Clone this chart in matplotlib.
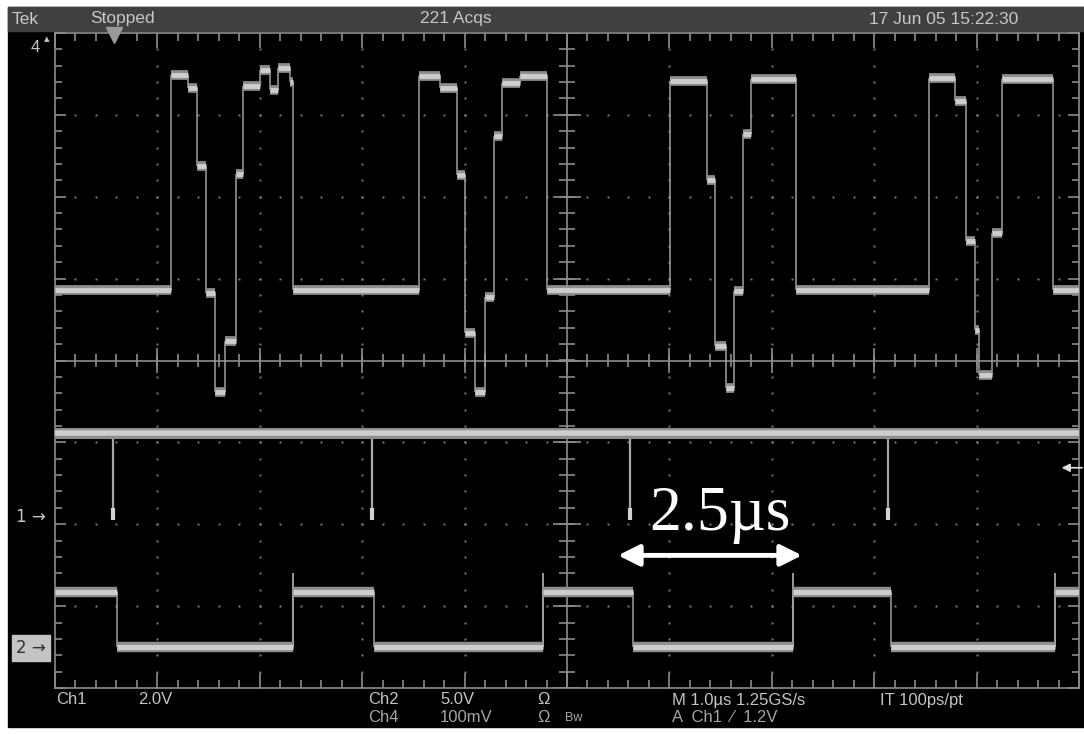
import numpy as np
import matplotlib.pyplot as plt
from matplotlib.patches import Rectangle

plt.rcParams['font.family'] = ['Liberation Sans', 'DejaVu Sans']

# time axis in us (1.0 us/div), vertical in screen divisions from centre
# Ch4 trace: step edges and the level held between them
ch4_edges = [0.0, 1.133, 1.299, 1.387, 1.475, 1.563, 1.660, 1.768, 1.836, 2.002, 2.100, 2.178, 2.295, 2.324,
             3.555, 3.760, 3.926, 4.004, 4.102, 4.199, 4.287, 4.365, 4.541, 4.805,
             6.006, 6.367, 6.445, 6.553, 6.631, 6.719, 6.797, 7.236,
             8.535, 8.789, 8.896, 8.984, 9.023, 9.150, 9.248, 9.746, 10.0]
ch4_level = [0.86, 3.49, 3.33, 2.38, 0.83, -0.39, 0.24, 2.28, 3.35, 3.55, 3.30, 3.57, 3.40,
             0.86, 3.48, 3.33, 2.26, 0.34, -0.39, 0.77, 2.74, 3.39, 3.48,
             0.86, 3.41, 2.20, 0.18, -0.34, 0.85, 2.77, 3.44,
             0.86, 3.45, 3.17, 1.46, 0.37, -0.18, 1.56, 3.44, 0.86]

# Ch1: flat level with narrow negative spikes
ch1_level = -0.885
ch1_ground = -1.91
ch1_spikes = [0.566, 3.096, 5.615, 8.135]
ch1_spike_bottom = -1.95

# Ch2: square wave
ch2_high = -2.83
ch2_low = -3.50
ch2_ground = -3.51
ch2_fall = [0.605, 3.115, 5.645, 8.164]
ch2_rise = [2.324, 4.766, 7.207, 9.766]
ch2_overshoot = -2.60

trig_level = -1.31
trig_pos = 0.58

# the 2.5us marker drawn on the screenshot
span_start, span_end, span_y = 5.498, 7.295, -2.38
span_label_x, span_label_y = 6.49, -2.07

W, H = 1084, 734
def fx(x):
    return x / W
def fy(y):
    return 1 - y / H

fig = plt.figure(figsize=(10.84, 7.34), dpi=100)
fig.patch.set_facecolor('white')
fig.patches.append(Rectangle((fx(8), fy(727)), 1 - fx(8), (727 - 7) / H,
                             transform=fig.transFigure, color='black', zorder=-10))
fig.patches.append(Rectangle((fx(8), fy(31)), 1 - fx(8), (31 - 7) / H,
                             transform=fig.transFigure, color='#404040', zorder=-9))

L, R, T, B = 55, 1079, 33, 688
ax = fig.add_axes([fx(L), fy(B), (R - L) / W, (B - T) / H])
ax.set_facecolor('black')
ax.set_xlim(0, 10)
ax.set_ylim(-4, 4)

gcol = '#8c8c8c'
for s in ax.spines.values():
    s.set_color(gcol)
    s.set_linewidth(1.2)
ax.set_xticks(np.arange(0, 11, 1))
ax.set_xticks(np.arange(0, 10.01, 0.2), minor=True)
ax.set_yticks(np.arange(-4, 5, 1))
ax.set_yticks(np.arange(-4, 4.01, 0.2), minor=True)
ax.tick_params(which='both', direction='in', top=True, right=True, color=gcol,
               labelbottom=False, labelleft=False, width=1.2)
ax.tick_params(axis='x', which='major', length=11)
ax.tick_params(axis='x', which='minor', length=6)
ax.tick_params(axis='y', which='major', length=8)
ax.tick_params(axis='y', which='minor', length=5)

# dotted graticule
fine_x = np.arange(0, 10.01, 0.2)
fine_y = np.arange(-4, 4.01, 0.2)
for gx in [1, 2, 3, 4, 6, 7, 8, 9]:
    ax.plot(np.full_like(fine_y, gx), fine_y, 's', ms=1.4, color='#808080', mew=0)
for gy in [-3, -2, -1, 1, 2, 3]:
    ax.plot(fine_x, np.full_like(fine_x, gy), 's', ms=1.4, color='#808080', mew=0)

# centre cross with ticks
ax.axhline(0, color=gcol, lw=1.2)
ax.axvline(5, color=gcol, lw=1.2)
ax.vlines(fine_x, -0.08, 0.08, color=gcol, lw=1.2)
ax.vlines(np.arange(0, 11, 1), -0.15, 0.15, color=gcol, lw=1.2)
ax.hlines(fine_y, 4.92, 5.08, color=gcol, lw=1.2)
ax.hlines(np.arange(-4, 5, 1), 4.86, 5.14, color=gcol, lw=1.2)

def draw_steps(edges, levels, band=7.0):
    e = np.asarray(edges)
    lv = np.asarray(levels)
    ax.vlines(e[1:-1], lv[:-1], lv[1:], color='#a0a0a0', lw=1.1, zorder=3)
    ax.hlines(lv, e[:-1], e[1:], color='#8e8e8e', lw=band, zorder=4)
    ax.hlines(lv, e[:-1], e[1:], color='#cdcdcd', lw=band * 0.5, zorder=5)

draw_steps(ch4_edges, ch4_level)

# Ch1
ax.vlines(ch1_spikes, ch1_spike_bottom, ch1_level, color='#a6a6a6', lw=1.6, zorder=3)
ax.vlines(ch1_spikes, ch1_spike_bottom, ch1_spike_bottom + 0.15, color='#d2d2d2', lw=3, zorder=3)
draw_steps([0, 10], [ch1_level], band=8.0)

# Ch2
ch2_edges = [0.0] + sorted(ch2_fall + ch2_rise) + [10.0]
ch2_levels = [ch2_high if i % 2 == 0 else ch2_low for i in range(len(ch2_edges) - 1)]
ax.vlines(ch2_rise, ch2_low, ch2_overshoot, color='#a6a6a6', lw=1.3, zorder=3)
draw_steps(ch2_edges, ch2_levels, band=7.5)

# top trigger position marker
ax.plot([trig_pos], [3.97], 'v', ms=11, color='#9a9a9a', clip_on=False, zorder=6)

# right-hand trigger level marker
ax.annotate('', xy=(9.83, trig_level), xytext=(10.03, trig_level),
            arrowprops=dict(arrowstyle='-|>', color='#e0e0e0', lw=1.2,
                            mutation_scale=12, shrinkA=0, shrinkB=0),
            annotation_clip=False, zorder=7)

# annotation
ax.annotate('', xy=(span_end, span_y), xytext=(span_start, span_y),
            arrowprops=dict(arrowstyle='<|-|>', color='white', lw=3.5,
                            mutation_scale=32, shrinkA=0, shrinkB=0), zorder=7)
ax.text(span_label_x, span_label_y, '2.5\u00b5s', color='white',
        family=['Liberation Serif', 'DejaVu Serif'], fontsize=46,
        ha='center', va='baseline', zorder=7)

# channel markers
tcol = '#c4c4c4'
ax.text(-0.09, ch1_ground, '1 \u2192', color=tcol, fontsize=12, ha='right', va='center',
        clip_on=False, family=['DejaVu Sans'])
ax.text(-0.09, ch2_ground, '2 \u2192', color='#303030', fontsize=12, ha='right', va='center',
        clip_on=False, family=['DejaVu Sans'],
        bbox=dict(boxstyle='square,pad=0.25', fc='#c4c4c4', ec='#c4c4c4'))
fig.text(fx(40), fy(47), '4', color=tcol, fontsize=12, ha='right', va='center')
fig.text(fx(47), fy(39), '\u25b4', color=tcol, fontsize=8, ha='center', va='center',
         family=['DejaVu Sans'])

# status bar
sb = dict(color='#c8c8c8', fontsize=12.5, va='center')
fig.text(fx(12), fy(19), 'Tek', **sb)
fig.text(fx(90), fy(19), 'Stopped', **sb)
fig.text(fx(420), fy(19), '221 Acqs', **sb)
fig.text(fx(1018), fy(19), '17 Jun 05 15:22:30', ha='right', **sb)

# readout lines
r1 = dict(color='#c4c4c4', fontsize=12, va='center')
r2 = dict(color='#a4a4a4', fontsize=12, va='center')
fig.text(fx(56), fy(700), 'Ch1', **r1)
fig.text(fx(138), fy(700), '2.0V', **r1)
fig.text(fx(368), fy(700), 'Ch2', **r1)
fig.text(fx(440), fy(700), '5.0V', **r1)
fig.text(fx(537), fy(700), '\u03a9', **r1)
fig.text(fx(672), fy(700), 'M 1.0\u00b5s 1.25GS/s', **r1)
fig.text(fx(880), fy(700), 'IT 100ps/pt', **r1)
fig.text(fx(368), fy(718), 'Ch4', **r2)
fig.text(fx(440), fy(718), '100mV', **r2)
fig.text(fx(537), fy(718), '\u03a9', **r2)
fig.text(fx(565), fy(718), 'Bw', color='#a4a4a4', fontsize=9, va='center')
fig.text(fx(672), fy(718), 'A  Ch1  \u2044  1.2V', **r2)

fig.savefig('out.png', dpi=100)
